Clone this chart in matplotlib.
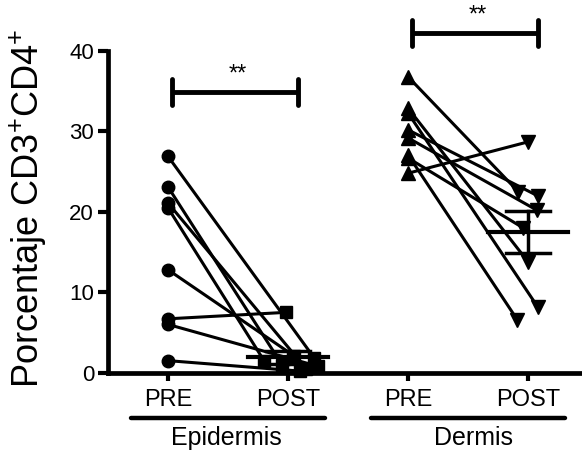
import numpy as np
import matplotlib
matplotlib.use("Agg")
import matplotlib.pyplot as plt

plt.rcParams['font.family'] = ['Liberation Sans', 'DejaVu Sans']
plt.rcParams['mathtext.fontset'] = 'custom'
plt.rcParams['mathtext.rm'] = 'Liberation Sans'

# data (percent CD3+CD4+), paired PRE -> POST
epi_pre = [26.9, 23.1, 21.1, 20.5, 12.8, 6.7, 6.0, 1.5]
epi_post = [1.8, 1.0, 0.5, 1.5, 2.1, 7.5, 0.8, 0.2]
derm_pre = [36.8, 32.9, 32.3, 30.2, 29.2, 27.1, 26.7, 24.8]
derm_post = [22.5, 13.8, 8.2, 22.0, 20.2, 6.6, 18.0, 28.7]

tick_labels = ["PRE", "POST", "PRE", "POST"]
groups = ["Epidermis", "Dermis"]
ylabel = r"Porcentaje CD3$^{+}$CD4$^{+}$"

# horizontal scatter of the points (GraphPad style)
epi_post_jit = [0.22, -0.05, 0.15, -0.2, 0.05, -0.02, 0.25, 0.1]
derm_post_jit = [-0.08, 0.0, 0.08, 0.08, 0.075, -0.09, -0.04, 0.0]

fig = plt.figure(figsize=(5.82, 4.53), dpi=100)
ax = fig.add_axes([108 / 582, 1 - 372.7 / 453, 1 - 108 / 582, (372.7 - 51) / 453])


def draw_group(x0, pre, post, jit, m_pre, m_post, ms):
    xp = x0 + 1 + np.array(jit)
    for a, b, xx in zip(pre, post, xp):
        ax.plot([x0, xx], [a, b], color="black", lw=2.2, zorder=2, clip_on=False)
    ax.plot([x0] * len(pre), pre, ls="none", marker=m_pre, ms=ms, color="black",
            zorder=3, clip_on=False)
    ax.plot(xp, post, ls="none", marker=m_post, ms=ms, color="black",
            zorder=3, clip_on=False)
    post = np.array(post)
    mean = post.mean()
    sem = post.std(ddof=1) / np.sqrt(len(post))
    xc = x0 + 1
    ax.plot([xc - 0.33, xc + 0.33], [mean, mean], color="black", lw=3, zorder=4)
    ax.plot([xc, xc], [mean - sem, mean + sem], color="black", lw=2.5, zorder=4)
    for v in (mean - sem, mean + sem):
        ax.plot([xc - 0.18, xc + 0.18], [v, v], color="black", lw=2.5, zorder=4)


draw_group(0, epi_pre, epi_post, epi_post_jit, "o", "s", 9)
draw_group(2, derm_pre, derm_post, derm_post_jit, "^", "v", 10)

# significance brackets
for x0, yb in ((0, 34.9), (2, 42.2)):
    ax.plot([x0 + 0.03, x0 + 1.08], [yb, yb], color="black", lw=3.5,
            clip_on=False, solid_capstyle="butt")
    for xe in (x0 + 0.03, x0 + 1.08):
        ax.plot([xe, xe], [yb - 1.6, yb + 1.6], color="black", lw=3.5,
                clip_on=False, solid_capstyle="round")
    ax.text(x0 + 0.58, yb + 0.8, "**", ha="center", va="bottom", fontsize=17)

# group underlines and names
for x0, name, dx in ((0, groups[0], 0.49), (2, groups[1], 0.55)):
    ax.plot([x0 - 0.31, x0 + 1.31], [-5.6, -5.6], color="black", lw=3.2,
            clip_on=False, solid_capstyle="round")
    ax.text(x0 + dx, -8.1, name, ha="center", va="center", fontsize=18)

ax.set_xlim(-0.5, 3.45)
ax.set_ylim(0, 40)
ax.set_yticks([0, 10, 20, 30, 40])
ax.set_xticks([0, 1, 2, 3])
ax.set_xticklabels(tick_labels)
for s in ("top", "right"):
    ax.spines[s].set_visible(False)
for s in ("left", "bottom"):
    ax.spines[s].set_linewidth(3.4)
ax.tick_params(axis="y", length=7, width=3, pad=3, labelsize=16)
ax.tick_params(axis="x", length=6, width=3, pad=6, labelsize=17)

fig.text(28 / 582, 1 - 208 / 453, ylabel, rotation=90, ha="center", va="center",
         fontsize=26)

fig.savefig("out.png", dpi=100)
